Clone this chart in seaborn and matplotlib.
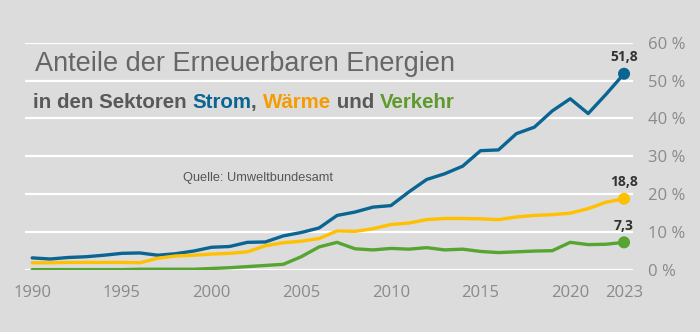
import matplotlib
matplotlib.use("Agg")
import matplotlib.pyplot as plt
import seaborn as sns
import pandas as pd

years = list(range(1990, 2024))
strom = [3.2, 2.9, 3.3, 3.5, 3.9, 4.4, 4.5, 3.9, 4.3, 5.0,
         6.0, 6.2, 7.3, 7.4, 9.0, 9.9, 11.1, 14.4, 15.3, 16.6,
         17.0, 20.6, 23.9, 25.4, 27.4, 31.5, 31.7, 36.0, 37.7, 42.0,
         45.2, 41.3, 46.4, 51.8]
waerme = [1.9, 1.9, 2.0, 2.0, 2.0, 2.0, 1.9, 3.1, 3.7, 3.9,
          4.2, 4.4, 4.8, 6.4, 7.2, 7.6, 8.3, 10.3, 10.2, 10.9,
          12.0, 12.4, 13.3, 13.6, 13.6, 13.5, 13.3, 14.0, 14.4, 14.6,
          15.0, 16.2, 17.9, 18.8]
verkehr = [0.1, 0.1, 0.1, 0.1, 0.1, 0.1, 0.2, 0.2, 0.2, 0.2,
           0.4, 0.6, 0.9, 1.2, 1.5, 3.5, 6.1, 7.3, 5.6, 5.3,
           5.7, 5.5, 5.9, 5.3, 5.5, 4.9, 4.6, 4.8, 5.0, 5.1,
           7.3, 6.7, 6.8, 7.3]
end_labels = ["51,8", "18,8", "7,3"]
x_ticks = [1990, 1995, 2000, 2005, 2010, 2015, 2020, 2023]
y_ticks = [0, 10, 20, 30, 40, 50, 60]
y_tick_labels = ["0 %", "10 %", "20 %", "30 %", "40 %", "50 %", "60 %"]

sectors = ["Strom", "Wärme", "Verkehr"]
colors = {"Strom": "#0b6592", "Wärme": "#ffc000", "Verkehr": "#55a530"}
text_colors = {"Strom": "#0b6592", "Wärme": "#f59c00", "Verkehr": "#5f9a2e"}

df = pd.DataFrame({
    "Jahr": years * 3,
    "Anteil": strom + waerme + verkehr,
    "Sektor": ["Strom"] * len(years) + ["Wärme"] * len(years) + ["Verkehr"] * len(years),
})
last = df[df["Jahr"] == years[-1]]

sns.set_theme(style="white")
plt.rcParams["font.family"] = ["Liberation Sans", "DejaVu Sans"]

W, H = 700, 332
bg = "#dcdcdc"
fig = plt.figure(figsize=(W / 100, H / 100), dpi=100, facecolor=bg)
ax = fig.add_axes([25 / W, 62 / H, 608 / W, 227.3 / H])
ax.set_facecolor(bg)

for yv in y_ticks:
    ax.axhline(yv, color="white", lw=1.6, zorder=1)

sns.lineplot(data=df, x="Jahr", y="Anteil", hue="Sektor", hue_order=sectors,
             palette=colors, lw=2.4, legend=False, ax=ax, zorder=3,
             solid_joinstyle="round", solid_capstyle="round")
sns.scatterplot(data=last, x="Jahr", y="Anteil", hue="Sektor", hue_order=sectors,
                palette=colors, s=75, edgecolor="none", legend=False, ax=ax,
                zorder=4, clip_on=False)

for (_, row), lab in zip(last.iterrows(), end_labels):
    ax.annotate(lab, (row["Jahr"], row["Anteil"]), xytext=(0, 12),
                textcoords="offset points", ha="center", va="center",
                fontsize=10, fontweight="bold", color="#333333",
                family=["Open Sans", "DejaVu Sans"])

tick_font = ["Open Sans", "DejaVu Sans"]
ax.set_xlim(1989.6, 2023.5)
ax.set_ylim(0, 60)
ax.set_xticks(x_ticks)
ax.set_xticklabels([str(t) for t in x_ticks], family=tick_font,
                   fontsize=12, color="#8a8a8a")
ax.yaxis.tick_right()
ax.set_yticks(y_ticks)
ax.set_yticklabels(y_tick_labels, family=tick_font,
                   fontsize=12, color="#8a8a8a")
ax.tick_params(axis="y", length=0, pad=11)
ax.tick_params(axis="x", length=0, pad=11)
ax.set_xlabel("")
ax.set_ylabel("")
for s in ax.spines.values():
    s.set_visible(False)

fig.text(35 / W, 1 - 71 / H, "Anteile der Erneuerbaren Energien", fontsize=19.5,
         color="#666666", ha="left", va="baseline")

# multicoloured subtitle
parts = [("in den Sektoren ", "#595959"), ("Strom", text_colors["Strom"]),
         (", ", "#595959"), ("Wärme", text_colors["Wärme"]),
         (" und ", "#595959"), ("Verkehr", text_colors["Verkehr"])]
fig.canvas.draw()
renderer = fig.canvas.get_renderer()
xpix = 33
for txt, col in parts:
    t = fig.text(xpix / W, 1 - 108 / H, txt, fontsize=14.8, fontweight="bold",
                 color=col, ha="left", va="baseline")
    bb = t.get_window_extent(renderer=renderer)
    xpix += bb.width

fig.text(183 / W, 1 - 178 / H, "Quelle: Umweltbundesamt", fontsize=9.2,
         color="#555555", ha="left", va="center")

fig.savefig("out.png", dpi=100, facecolor=bg)
